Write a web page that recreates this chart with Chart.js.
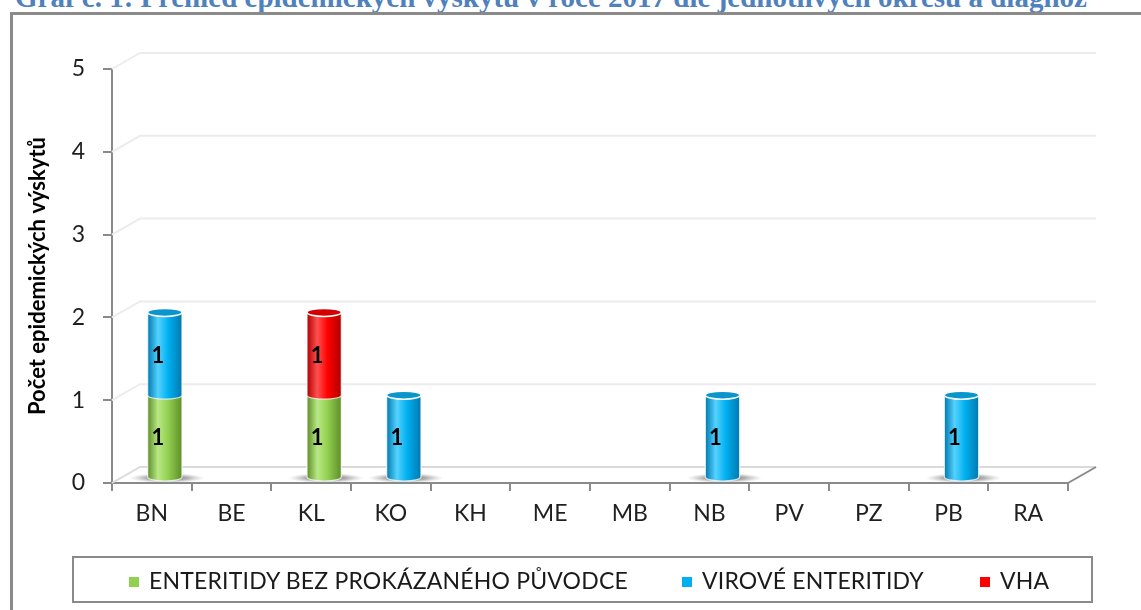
<!DOCTYPE html>
<html>
<head>
<meta charset="utf-8">
<script src="https://cdn.jsdelivr.net/npm/chart.js@4.4.1/dist/chart.umd.min.js"></script>
<style>
  html, body { margin: 0; padding: 0; background: #fff; overflow: hidden; }
  #wrap { position: relative; width: 1141px; height: 610px; }
  #nadpis { position: absolute; left: 15px; top: -17px; font: bold 29px "Liberation Serif", serif; line-height: 29px; color: #4f81bd; white-space: nowrap; }
  #ramec { position: absolute; left: 10px; top: 12px; width: 1140px; height: 610px; border-left: 3px solid #8a8a8a; border-top: 3px solid #8a8a8a; }
  canvas { position: absolute; left: 0; top: 0; }
  #legenda { position: absolute; left: 72px; top: 556px; width: 1017px; height: 43px; border: 2px solid #8a8a8a; font: 23px Lato, sans-serif; color: #1a1a1a; }
  #legenda span.pol { position: absolute; top: 8px; white-space: nowrap; letter-spacing: 0.2px; }
  #legenda i { display: inline-block; width: 10px; height: 10px; margin-right: 10px; vertical-align: 2px; }
</style>
</head>
<body>
<div id="wrap">
  <div id="nadpis">Graf č. 1: Přehled epidemických výskytů v roce 2017 dle jednotlivých okresů a diagnóz</div>
  <div id="ramec"></div>
  <canvas id="graf" width="1141" height="610"></canvas>
  <div id="legenda"></div>
</div>
<script>
const okresy = ['BN', 'BE', 'KL', 'KO', 'KH', 'ME', 'MB', 'NB', 'PV', 'PZ', 'PB', 'RA'];
const enteritidy = [1, 0, 1, 0, 0, 0, 0, 0, 0, 0, 0, 0];
const viroveEnteritidy = [1, 0, 0, 1, 0, 0, 0, 1, 0, 0, 1, 0];
const vha = [0, 0, 1, 0, 0, 0, 0, 0, 0, 0, 0, 0];
const yTicks = [0, 1, 2, 3, 4, 5];

const barvy = [
    { base: '#92d050', light: '#b8e884', dark: '#5e8e28', cap: '#7cbc3c' },
    { base: '#00b0f0', light: '#55d2ff', dark: '#0079b0', cap: '#0a95cc' },
    { base: '#ff0000', light: '#ff5050', dark: '#b00000', cap: '#d20000' }
];
const nazvy = ['ENTERITIDY BEZ PROKÁZANÉHO PŮVODCE', 'VIROVÉ ENTERITIDY', 'VHA'];

// 3D look: back wall offset and cylinder offset
const hloubka = { dx: 28, dy: 16 };
const posun = { dx: 13, dy: -5 };

function drawBody(ctx, cx, w, top, bottom, c) {
    const rx = w / 2, ry = 4;
    const g = ctx.createLinearGradient(cx - rx, 0, cx + rx, 0);
    g.addColorStop(0, c.dark);
    g.addColorStop(0.3, c.light);
    g.addColorStop(0.6, c.base);
    g.addColorStop(1, c.dark);
    ctx.beginPath();
    ctx.moveTo(cx - rx, top);
    ctx.lineTo(cx - rx, bottom);
    ctx.ellipse(cx, bottom, rx, ry, 0, Math.PI, 0, true);
    ctx.lineTo(cx + rx, top);
    ctx.ellipse(cx, top, rx, ry, 0, 0, Math.PI, true);
    ctx.closePath();
    ctx.fillStyle = g;
    ctx.fill();
    ctx.strokeStyle = 'rgba(255,255,255,0.75)';
    ctx.lineWidth = 1.2;
    ctx.stroke();
}

function drawCap(ctx, cx, w, top, c) {
    ctx.beginPath();
    ctx.ellipse(cx, top, w / 2, 4, 0, 0, Math.PI * 2);
    ctx.fillStyle = c.cap;
    ctx.fill();
    ctx.strokeStyle = '#ffffff';
    ctx.lineWidth = 1.5;
    ctx.stroke();
}

function drawShadow(ctx, cx, y) {
    ctx.save();
    ctx.translate(cx + 2, y);
    ctx.scale(1, 0.13);
    const g = ctx.createRadialGradient(0, 0, 0, 0, 0, 38);
    g.addColorStop(0, 'rgba(60,60,60,0.8)');
    g.addColorStop(0.55, 'rgba(100,100,100,0.5)');
    g.addColorStop(1, 'rgba(160,160,160,0)');
    ctx.fillStyle = g;
    ctx.beginPath();
    ctx.arc(0, 0, 38, 0, Math.PI * 2);
    ctx.fill();
    ctx.restore();
}

const valce = {
    id: 'valce',
    beforeDatasetsDraw(chart) {
        const ctx = chart.ctx;
        const { left, right } = chart.chartArea;
        const y = chart.scales.y;
        ctx.save();
        // back wall gridlines
        ctx.lineWidth = 2;
        yTicks.forEach(v => {
            const py = y.getPixelForValue(v);
            ctx.strokeStyle = v === 0 ? '#dadada' : '#ececec';
            ctx.beginPath();
            ctx.moveTo(left, py);
            ctx.lineTo(left + hloubka.dx, py - hloubka.dy);
            ctx.lineTo(right + hloubka.dx, py - hloubka.dy);
            ctx.stroke();
        });
        const p0 = y.getPixelForValue(0);
        ctx.strokeStyle = '#8a8a8a';
        ctx.beginPath();
        ctx.moveTo(right, p0);
        ctx.lineTo(right + hloubka.dx, p0 - hloubka.dy);
        ctx.stroke();

        const metas = chart.data.datasets.map((d, i) => chart.getDatasetMeta(i));
        okresy.forEach((ok, j) => {
            const segs = [];
            metas.forEach((m, i) => {
                const v = chart.data.datasets[i].data[j];
                if (v > 0) {
                    const el = m.data[j];
                    segs.push({ x: el.x, w: el.width, top: el.y + posun.dy, bottom: el.base + posun.dy, c: barvy[i], v: v });
                }
            });
            if (!segs.length) return;
            segs.sort((a, b) => b.bottom - a.bottom);
            const cx = segs[0].x + posun.dx;
            drawShadow(ctx, cx, segs[0].bottom + 1);
            segs.forEach(s => drawBody(ctx, cx, s.w, s.top, s.bottom, s.c));
            const last = segs[segs.length - 1];
            drawCap(ctx, cx, last.w, last.top, last.c);
            ctx.fillStyle = '#000';
            ctx.font = 'bold 22px Lato, sans-serif';
            ctx.textAlign = 'center';
            ctx.textBaseline = 'middle';
            segs.forEach(s => ctx.fillText(String(s.v), s.x + 6, (s.top + s.bottom) / 2 + 2));
        });
        ctx.restore();
        return false;
    }
};

new Chart(document.getElementById('graf'), {
    type: 'bar',
    data: {
        labels: okresy,
        datasets: [
            { label: nazvy[0], data: enteritidy, backgroundColor: barvy[0].base },
            { label: nazvy[1], data: viroveEnteritidy, backgroundColor: barvy[1].base },
            { label: nazvy[2], data: vha, backgroundColor: barvy[2].base }
        ]
    },
    options: {
        responsive: false,
        animation: false,
        categoryPercentage: 1,
        barPercentage: 0.43,
        layout: { padding: { top: 69, right: 73, bottom: 0, left: 0 } },
        plugins: { legend: { display: false }, tooltip: { enabled: false } },
        scales: {
            x: {
                stacked: true,
                afterFit(s) { s.height = 127; },
                border: { color: '#8a8a8a', width: 2 },
                grid: { offset: true, drawOnChartArea: false, tickLength: 8, color: '#8a8a8a', lineWidth: 2 },
                ticks: { color: '#1f1f1f', font: { family: 'Lato', size: 23 }, padding: 9 }
            },
            y: {
                stacked: true,
                min: 0,
                max: 5,
                afterFit(s) { s.width = 112; },
                border: { color: '#8a8a8a', width: 2 },
                grid: { drawOnChartArea: false, tickLength: 9, color: '#8a8a8a', lineWidth: 2 },
                ticks: { stepSize: 1, color: '#1f1f1f', font: { family: 'Lato', size: 23 }, padding: 18 },
                title: {
                    display: true,
                    text: 'Počet epidemických výskytů',
                    color: '#000',
                    font: { family: 'Lato', size: 22, weight: 'bold' },
                    padding: { top: 25, bottom: 0 }
                }
            }
        }
    },
    plugins: [valce]
});

// legend
const legenda = document.getElementById('legenda');
const leva = [55, 608, 906];
nazvy.forEach((n, i) => {
    const sp = document.createElement('span');
    sp.className = 'pol';
    sp.style.left = leva[i] + 'px';
    const box = document.createElement('i');
    box.style.background = barvy[i].base;
    sp.appendChild(box);
    sp.appendChild(document.createTextNode(n));
    legenda.appendChild(sp);
});
</script>
</body>
</html>
